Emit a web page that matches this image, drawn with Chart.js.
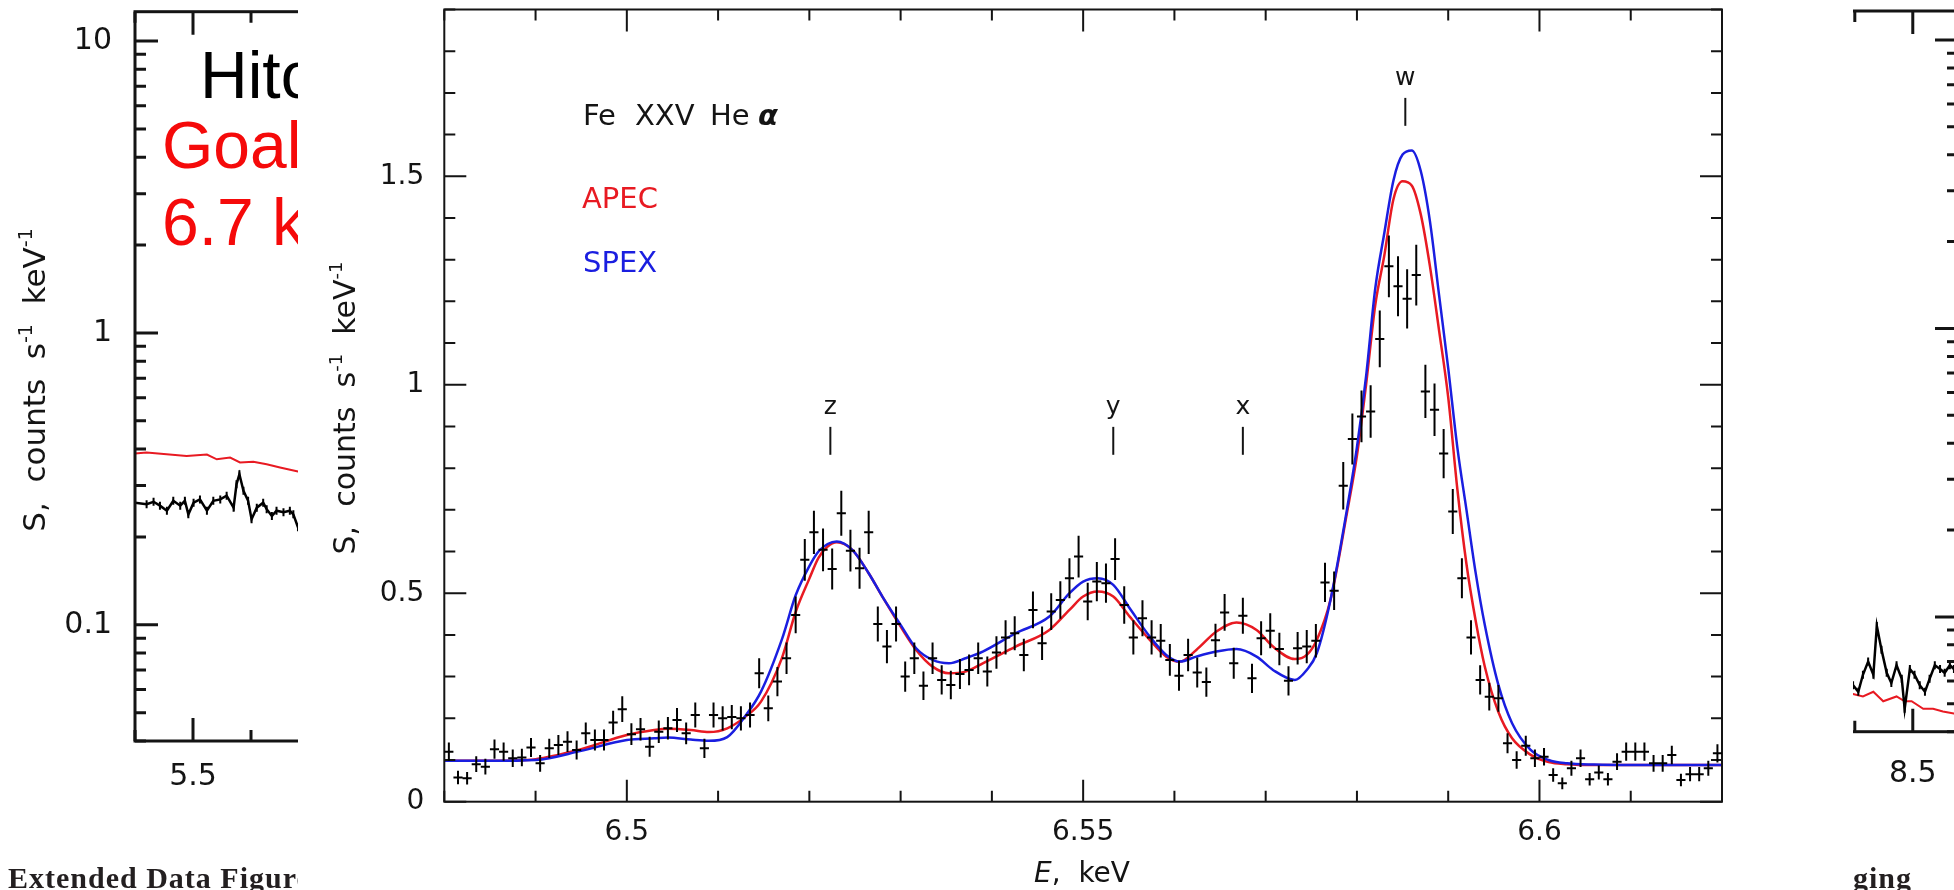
<!DOCTYPE html>
<html>
<head>
<meta charset="utf-8">
<script src="https://cdn.jsdelivr.net/npm/chart.js@4.4.1/dist/chart.umd.min.js"></script>
<style>
  html, body { margin: 0; padding: 0; background: #fff; }
  body { width: 1954px; height: 890px; position: relative; overflow: hidden; }
  canvas { position: absolute; top: 0; }
  #leftChart { left: 0; z-index: 1; }
  #rightChart { left: 1400px; z-index: 1; }
  #mainChart { left: 298px; z-index: 2; background: #fff; }
</style>
</head>
<body>
<canvas id="leftChart" width="760" height="890"></canvas>
<canvas id="rightChart" width="600" height="890"></canvas>
<canvas id="mainChart" width="1555" height="890"></canvas>
<script>
// Fe XXV He-alpha spectrum, 1 eV bins (bin centres, keV)
const energy = [
  6.4805, 6.4815, 6.4825, 6.4835, 6.4845, 6.4855, 6.4865, 6.4875, 6.4885, 6.4895,
  6.4905, 6.4915, 6.4925, 6.4935, 6.4945, 6.4955, 6.4965, 6.4975, 6.4985, 6.4995,
  6.5005, 6.5015, 6.5025, 6.5035, 6.5045, 6.5055, 6.5065, 6.5075, 6.5085, 6.5095,
  6.5105, 6.5115, 6.5125, 6.5135, 6.5145, 6.5155, 6.5165, 6.5175, 6.5185, 6.5195,
  6.5205, 6.5215, 6.5225, 6.5235, 6.5245, 6.5255, 6.5265, 6.5275, 6.5285, 6.5295,
  6.5305, 6.5315, 6.5325, 6.5335, 6.5345, 6.5355, 6.5365, 6.5375, 6.5385, 6.5395,
  6.5405, 6.5415, 6.5425, 6.5435, 6.5445, 6.5455, 6.5465, 6.5475, 6.5485, 6.5495,
  6.5505, 6.5515, 6.5525, 6.5535, 6.5545, 6.5555, 6.5565, 6.5575, 6.5585, 6.5595,
  6.5605, 6.5615, 6.5625, 6.5635, 6.5645, 6.5655, 6.5665, 6.5675, 6.5685, 6.5695,
  6.5705, 6.5715, 6.5725, 6.5735, 6.5745, 6.5755, 6.5765, 6.5775, 6.5785, 6.5795,
  6.5805, 6.5815, 6.5825, 6.5835, 6.5845, 6.5855, 6.5865, 6.5875, 6.5885, 6.5895,
  6.5905, 6.5915, 6.5925, 6.5935, 6.5945, 6.5955, 6.5965, 6.5975, 6.5985, 6.5995,
  6.6005, 6.6015, 6.6025, 6.6035, 6.6045, 6.6055, 6.6065, 6.6075, 6.6085, 6.6095,
  6.6105, 6.6115, 6.6125, 6.6135, 6.6145, 6.6155, 6.6165, 6.6175, 6.6185, 6.6195
];
const counts = [
  0.120, 0.058, 0.056, 0.090, 0.084, 0.126, 0.120, 0.104, 0.106, 0.130,
  0.092, 0.128, 0.136, 0.144, 0.124, 0.164, 0.148, 0.148, 0.190, 0.222,
  0.162, 0.174, 0.132, 0.168, 0.176, 0.196, 0.164, 0.208, 0.128, 0.208,
  0.200, 0.203, 0.200, 0.208, 0.308, 0.224, 0.288, 0.344, 0.448, 0.580,
  0.646, 0.604, 0.558, 0.692, 0.602, 0.560, 0.646, 0.426, 0.372, 0.426,
  0.300, 0.344, 0.278, 0.344, 0.292, 0.280, 0.306, 0.316, 0.344, 0.312,
  0.358, 0.394, 0.404, 0.352, 0.460, 0.380, 0.456, 0.484, 0.536, 0.588,
  0.480, 0.528, 0.524, 0.582, 0.472, 0.394, 0.440, 0.394, 0.386, 0.340,
  0.302, 0.352, 0.310, 0.287, 0.387, 0.454, 0.332, 0.446, 0.296, 0.392,
  0.410, 0.366, 0.290, 0.368, 0.372, 0.386, 0.526, 0.506, 0.758, 0.870,
  0.924, 0.936, 1.110, 1.284, 1.236, 1.206, 1.263, 0.984, 0.940, 0.835,
  0.696, 0.536, 0.394, 0.292, 0.252, 0.248, 0.140, 0.100, 0.134, 0.104,
  0.108, 0.064, 0.044, 0.080, 0.104, 0.054, 0.070, 0.054, 0.096, 0.120,
  0.120, 0.120, 0.092, 0.092, 0.112, 0.052, 0.066, 0.066, 0.080, 0.116
];
const countErr = [
  0.022, 0.016, 0.015, 0.019, 0.019, 0.023, 0.022, 0.021, 0.021, 0.023,
  0.020, 0.023, 0.024, 0.025, 0.023, 0.026, 0.025, 0.025, 0.028, 0.031,
  0.026, 0.027, 0.024, 0.027, 0.027, 0.029, 0.026, 0.030, 0.023, 0.030,
  0.029, 0.029, 0.029, 0.030, 0.036, 0.031, 0.035, 0.038, 0.044, 0.050,
  0.052, 0.051, 0.049, 0.054, 0.050, 0.049, 0.052, 0.042, 0.040, 0.042,
  0.036, 0.038, 0.034, 0.038, 0.035, 0.034, 0.036, 0.037, 0.038, 0.036,
  0.039, 0.041, 0.041, 0.039, 0.044, 0.040, 0.044, 0.045, 0.048, 0.050,
  0.045, 0.047, 0.047, 0.050, 0.045, 0.041, 0.043, 0.041, 0.040, 0.038,
  0.036, 0.039, 0.036, 0.035, 0.040, 0.044, 0.037, 0.043, 0.035, 0.041,
  0.042, 0.039, 0.035, 0.039, 0.040, 0.040, 0.047, 0.046, 0.057, 0.061,
  0.062, 0.063, 0.068, 0.074, 0.072, 0.071, 0.073, 0.064, 0.063, 0.059,
  0.054, 0.048, 0.041, 0.035, 0.033, 0.032, 0.024, 0.021, 0.024, 0.021,
  0.021, 0.016, 0.014, 0.018, 0.021, 0.015, 0.017, 0.015, 0.020, 0.022,
  0.022, 0.022, 0.020, 0.020, 0.022, 0.015, 0.017, 0.017, 0.018, 0.022
];
const binHalf = 0.0005;

// model spectra on a common energy grid
const modelE = [
  6.480, 6.485, 6.490, 6.495, 6.500, 6.503, 6.5045, 6.507, 6.509, 6.511,
  6.513, 6.5147, 6.517, 6.5185, 6.520, 6.521, 6.522, 6.523, 6.5247, 6.5265,
  6.528, 6.530, 6.5317, 6.5335, 6.5353, 6.5371, 6.539, 6.5426, 6.5463, 6.5485,
  6.550, 6.5516, 6.5533, 6.5551, 6.5573, 6.5591, 6.5606, 6.5624, 6.5646, 6.5668,
  6.569, 6.5708, 6.5732, 6.5745, 6.5756, 6.5771, 6.5789, 6.580, 6.581, 6.582,
  6.583, 6.584, 6.585, 6.586, 6.587, 6.588, 6.589, 6.590, 6.591, 6.592,
  6.593, 6.594, 6.5955, 6.597, 6.599, 6.601, 6.603, 6.606, 6.610, 6.620
];
const apec = [
  0.098, 0.098, 0.102, 0.126, 0.160, 0.172, 0.175, 0.172, 0.167, 0.176,
  0.204, 0.240, 0.345, 0.455, 0.535, 0.585, 0.612, 0.622, 0.604, 0.548,
  0.492, 0.420, 0.364, 0.324, 0.308, 0.312, 0.332, 0.372, 0.412, 0.460,
  0.492, 0.504, 0.492, 0.444, 0.388, 0.348, 0.336, 0.364, 0.408, 0.430,
  0.412, 0.372, 0.342, 0.352, 0.388, 0.484, 0.692, 0.830, 1.000, 1.190,
  1.310, 1.445, 1.488, 1.478, 1.408, 1.284, 1.130, 0.970, 0.750, 0.570,
  0.435, 0.325, 0.215, 0.152, 0.113, 0.095, 0.090, 0.088, 0.088, 0.088
];
const spex = [
  0.098, 0.098, 0.100, 0.122, 0.148, 0.152, 0.154, 0.149, 0.146, 0.155,
  0.206, 0.264, 0.390, 0.495, 0.565, 0.600, 0.618, 0.624, 0.604, 0.548,
  0.492, 0.424, 0.368, 0.340, 0.332, 0.344, 0.360, 0.404, 0.444, 0.500,
  0.528, 0.536, 0.520, 0.464, 0.396, 0.352, 0.336, 0.348, 0.360, 0.366,
  0.348, 0.316, 0.292, 0.316, 0.356, 0.484, 0.700, 0.850, 1.020, 1.230,
  1.364, 1.490, 1.552, 1.562, 1.512, 1.392, 1.215, 1.040, 0.850, 0.700,
  0.550, 0.425, 0.280, 0.188, 0.125, 0.100, 0.092, 0.089, 0.088, 0.088
];

// line identifications: name, energy, foot of the marker
const lineNames = ['z', 'y', 'x', 'w'];
const lineE = [6.5223, 6.5533, 6.5675, 6.5853];
const lineMark = [0.832, 0.832, 0.832, 1.621];

// neighbouring broad-band panels (log scale)
const leftE = [
  5.400, 5.420, 5.432, 5.443, 5.455, 5.466, 5.478, 5.486, 5.492, 5.501,
  5.512, 5.524, 5.535, 5.547, 5.558, 5.570, 5.575, 5.580, 5.587, 5.595,
  5.601, 5.610, 5.621, 5.627, 5.636, 5.644, 5.656, 5.667, 5.673, 5.681
];
const leftCounts = [
  0.262, 0.259, 0.264, 0.256, 0.246, 0.266, 0.256, 0.266, 0.239, 0.262,
  0.269, 0.246, 0.266, 0.269, 0.277, 0.252, 0.303, 0.328, 0.288, 0.266,
  0.230, 0.252, 0.262, 0.249, 0.236, 0.246, 0.243, 0.246, 0.239, 0.216
];
const leftModelE = [5.400, 5.420, 5.489, 5.524, 5.541, 5.564, 5.581, 5.604, 5.627, 5.650, 5.681, 5.720];
const leftModel = [0.386, 0.389, 0.379, 0.383, 0.369, 0.374, 0.360, 0.362, 0.355, 0.346, 0.335, 0.328];

const rightE = [
  8.385, 8.397, 8.406, 8.414, 8.423, 8.432, 8.438, 8.446, 8.455, 8.463, 8.472,
  8.481, 8.486, 8.495, 8.503, 8.512, 8.521, 8.529, 8.538, 8.547, 8.555, 8.564, 8.571
];
const rightCounts = [
  0.060, 0.058, 0.055, 0.063, 0.070, 0.063, 0.093, 0.077, 0.064, 0.059, 0.068,
  0.061, 0.048, 0.066, 0.063, 0.058, 0.055, 0.061, 0.068, 0.066, 0.064, 0.068, 0.066
];
const rightModelE = [8.385, 8.397, 8.414, 8.432, 8.449, 8.472, 8.486, 8.498, 8.518, 8.535, 8.552, 8.578];
const rightModel = [0.054, 0.054, 0.053, 0.055, 0.051, 0.053, 0.051, 0.051, 0.048, 0.048, 0.047, 0.046];

const logTicks = [0.04, 0.05, 0.06, 0.07, 0.08, 0.09, 0.1, 0.2, 0.3, 0.4, 0.5, 0.6, 0.7, 0.8, 0.9,
                  1, 2, 3, 4, 5, 6, 7, 8, 9, 10];

const INK = '#141414';
const RED = 'rgb(232, 26, 34)';
const BLUE = 'rgb(26, 30, 224)';
const SANS = '"DejaVu Sans", sans-serif';
const SERIF = '"Liberation Serif", serif';

Chart.defaults.font.family = SANS;
Chart.defaults.color = INK;

function isMult(v, step) { const r = v / step; return Math.abs(r - Math.round(r)) < 1e-6; }
function isDecade(v) { const l = Math.log10(v); return Math.abs(l - Math.round(l)) < 1e-6; }
function fmt(v) { return String(Math.round(v * 1000) / 1000); }
function xy(xs, ys) { return xs.map((x, i) => ({x, y: ys[i]})); }

// fixed box sizes so the plotting areas land where the panels sit
function fixBox(s, dim, size) {
  if (dim === 'w') s.width = size; else s.height = size;
  s.paddingLeft = s.paddingRight = s.paddingTop = s.paddingBottom = 0;
}

// closed frame with inward ticks on all four sides
function frameTicks(cfg) {
  return {
    id: 'frameTicks',
    afterDatasetsDraw(chart) {
      const {ctx, chartArea: a, scales: {x, y}} = chart;
      ctx.save();
      ctx.strokeStyle = INK;
      ctx.lineWidth = cfg.width;
      ctx.beginPath();
      x.ticks.forEach(t => {
        const px = x.getPixelForValue(t.value);
        const len = isMult(t.value, cfg.xMajor) ? cfg.major : cfg.minor;
        ctx.moveTo(px, a.bottom); ctx.lineTo(px, a.bottom - len);
        ctx.moveTo(px, a.top); ctx.lineTo(px, a.top + len);
      });
      y.ticks.forEach(t => {
        const py = y.getPixelForValue(t.value);
        const major = cfg.yLog ? isDecade(t.value) : isMult(t.value, cfg.yMajor);
        const len = major ? cfg.major : cfg.minor;
        ctx.moveTo(a.left, py); ctx.lineTo(a.left + len, py);
        ctx.moveTo(a.right, py); ctx.lineTo(a.right - len, py);
      });
      ctx.stroke();
      ctx.strokeRect(a.left, a.top, a.right - a.left, a.bottom - a.top);
      ctx.restore();
    }
  };
}

// text made of runs with their own fonts (italics, superscripts)
function drawRuns(ctx, runs, x, y, align) {
  let w = 0;
  runs.forEach(r => { ctx.font = r.font; w += ctx.measureText(r.text).width; });
  let cx = align === 'center' ? x - w / 2 : x;
  runs.forEach(r => {
    ctx.font = r.font;
    ctx.fillText(r.text, cx, y - (r.rise || 0));
    cx += ctx.measureText(r.text).width;
  });
}
function countsTitle(size) {
  const f = `${size}px ${SANS}`;
  const s = `${Math.round(size * 0.6)}px ${SANS}`;
  return [
    {text: 'S,  counts  s', font: f},
    {text: '-1', font: s, rise: size * 0.42},
    {text: '  keV', font: f},
    {text: '-1', font: s, rise: size * 0.42}
  ];
}
function verticalTitle(ctx, runs, cx, cy, base) {
  ctx.save();
  ctx.translate(cx, cy);
  ctx.rotate(-Math.PI / 2);
  drawRuns(ctx, runs, 0, base, 'center');
  ctx.restore();
}

function tickFont(size) { return {family: SANS, size}; }

// ---------- main panel ----------
const errorBars = {
  id: 'errorBars',
  afterDatasetsDraw(chart) {
    const {ctx, scales: {x, y}} = chart;
    const pts = chart.getDatasetMeta(0).data;
    ctx.save();
    ctx.strokeStyle = '#000';
    ctx.lineWidth = 2;
    ctx.beginPath();
    pts.forEach((p, i) => {
      ctx.moveTo(x.getPixelForValue(energy[i] - binHalf), p.y);
      ctx.lineTo(x.getPixelForValue(energy[i] + binHalf), p.y);
      ctx.moveTo(p.x, y.getPixelForValue(counts[i] - countErr[i]));
      ctx.lineTo(p.x, y.getPixelForValue(counts[i] + countErr[i]));
    });
    ctx.stroke();
    ctx.restore();
  }
};

const mainNotes = {
  id: 'mainNotes',
  afterDraw(chart) {
    const {ctx, scales: {x, y}} = chart;
    ctx.save();
    ctx.fillStyle = INK;
    ctx.strokeStyle = INK;
    ctx.lineWidth = 2;
    ctx.textBaseline = 'alphabetic';

    // line markers
    ctx.font = `25px ${SANS}`;
    ctx.textAlign = 'center';
    lineNames.forEach((n, i) => {
      const px = x.getPixelForValue(lineE[i]);
      const y0 = y.getPixelForValue(lineMark[i]);
      const y1 = y.getPixelForValue(lineMark[i] + 0.067);
      ctx.beginPath();
      ctx.moveTo(px, y0);
      ctx.lineTo(px, y1);
      ctx.stroke();
      ctx.fillText(n, px, y1 - 13);
    });

    // ion label and model names
    ctx.textAlign = 'left';
    ctx.font = `29px ${SANS}`;
    ctx.fillText('Fe', 285, 125);
    ctx.fillText('XXV', 337, 125);
    ctx.fillText('He', 412, 125);
    ctx.font = `italic bold 29px ${SANS}`;
    ctx.fillText('α', 460, 125);
    ctx.font = `29px ${SANS}`;
    ctx.fillStyle = RED;
    ctx.fillText('APEC', 284, 208);
    ctx.fillStyle = BLUE;
    ctx.fillText('SPEX', 285, 272);

    // axis titles
    ctx.fillStyle = INK;
    verticalTitle(ctx, countsTitle(30), 45, 408, 12);
    drawRuns(ctx, [
      {text: 'E', font: `italic 28px ${SANS}`},
      {text: ',  keV', font: `28px ${SANS}`}
    ], 784, 882, 'center');
    ctx.restore();
  }
};

new Chart(document.getElementById('mainChart'), {
  type: 'scatter',
  data: {
    datasets: [
      {label: 'data', data: xy(energy, counts), pointRadius: 0, showLine: false, order: 0},
      {label: 'SPEX', data: xy(modelE, spex), showLine: true, borderColor: BLUE, borderWidth: 2.5,
       pointRadius: 0, cubicInterpolationMode: 'monotone', order: 1},
      {label: 'APEC', data: xy(modelE, apec), showLine: true, borderColor: RED, borderWidth: 2.5,
       pointRadius: 0, cubicInterpolationMode: 'monotone', order: 2}
    ]
  },
  options: {
    responsive: false,
    animation: false,
    events: [],
    layout: {padding: {left: 0, right: 131, top: 9.5, bottom: 0}},
    plugins: {legend: {display: false}, tooltip: {enabled: false}},
    scales: {
      x: {
        type: 'linear', min: 6.48, max: 6.62,
        grid: {display: false, drawTicks: false}, border: {display: false},
        ticks: {stepSize: 0.01, autoSkip: false, maxRotation: 0, includeBounds: false, padding: 14,
                color: INK, font: tickFont(28), callback: v => isMult(v, 0.05) ? fmt(v) : ''},
        afterFit: s => fixBox(s, 'h', 88.3)
      },
      y: {
        type: 'linear', min: 0, max: 1.9,
        grid: {display: false, drawTicks: false}, border: {display: false},
        ticks: {stepSize: 0.1, autoSkip: false, includeBounds: false, padding: 20,
                color: INK, font: tickFont(28), callback: v => isMult(v, 0.5) ? fmt(v) : ''},
        afterFit: s => fixBox(s, 'w', 146.3)
      }
    }
  },
  plugins: [frameTicks({width: 2, major: 22, minor: 11, xMajor: 0.05, yMajor: 0.5}), errorBars, mainNotes]
});

// ---------- left panel ----------
const leftNotes = {
  id: 'leftNotes',
  afterDraw(chart) {
    const {ctx} = chart;
    ctx.save();
    ctx.textAlign = 'left';
    ctx.textBaseline = 'alphabetic';
    ctx.fillStyle = INK;
    verticalTitle(ctx, countsTitle(31), 32, 380, 13);
    ctx.font = `66px "Liberation Sans", sans-serif`;
    ctx.fillStyle = '#000';
    ctx.fillText('Hitomi', 200, 98);
    ctx.fillStyle = 'rgb(245, 10, 10)';
    ctx.fillText('Goal', 162, 168);
    ctx.fillText('6.7 keV', 162, 245);
    ctx.fillStyle = '#231f20';
    ctx.font = `bold 30px ${SERIF}`;
    ctx.letterSpacing = '1px';
    ctx.fillText('Extended Data Figure', 8, 888);
    ctx.restore();
  }
};

function logAxis(width, showLabels, padding) {
  return {
    type: 'logarithmic', min: 0.04, max: 12.6,
    grid: {display: false, drawTicks: false}, border: {display: false},
    afterBuildTicks: s => { s.ticks = logTicks.map(v => ({value: v})); },
    ticks: {display: showLabels, autoSkip: false, padding, color: INK, font: tickFont(30),
            callback: v => isDecade(v) ? fmt(v) : ''},
    afterFit: s => fixBox(s, 'w', width)
  };
}

new Chart(document.getElementById('leftChart'), {
  type: 'scatter',
  data: {
    datasets: [
      {data: xy(leftE, leftCounts), showLine: true, borderColor: '#000', borderWidth: 2.5,
       pointStyle: 'line', rotation: 90, pointRadius: 4, pointBorderWidth: 2, pointBorderColor: '#000', order: 0},
      {data: xy(leftModelE, leftModel), showLine: true, borderColor: RED, borderWidth: 2, pointRadius: 0, order: 1}
    ]
  },
  options: {
    responsive: false,
    animation: false,
    events: [],
    layout: {padding: {left: 0, right: 45, top: 11.7, bottom: 0}},
    plugins: {legend: {display: false}, tooltip: {enabled: false}},
    scales: {
      x: {
        type: 'linear', min: 5.4, max: 6.4,
        grid: {display: false, drawTicks: false}, border: {display: false},
        ticks: {stepSize: 0.1, autoSkip: false, maxRotation: 0, includeBounds: false, padding: 18,
                color: INK, font: tickFont(30), callback: v => isMult(v, 0.5) ? fmt(v) : ''},
        afterFit: s => fixBox(s, 'h', 149)
      },
      y: logAxis(135, true, 23)
    }
  },
  plugins: [frameTicks({width: 3, major: 23, minor: 11, xMajor: 0.5, yLog: true}), leftNotes]
});

// ---------- right panel ----------
const rightNotes = {
  id: 'rightNotes',
  afterDraw(chart) {
    const {ctx} = chart;
    ctx.save();
    ctx.textAlign = 'left';
    ctx.textBaseline = 'alphabetic';
    ctx.fillStyle = '#231f20';
    ctx.font = `bold 30px ${SERIF}`;
    ctx.letterSpacing = '1px';
    ctx.fillText('ging', 453, 888);
    ctx.restore();
  }
};

new Chart(document.getElementById('rightChart'), {
  type: 'scatter',
  data: {
    datasets: [
      {data: xy(rightE, rightCounts), showLine: true, borderColor: '#000', borderWidth: 2.5,
       pointStyle: 'line', rotation: 90, pointRadius: 4, pointBorderWidth: 2, pointBorderColor: '#000', order: 0},
      {data: xy(rightModelE, rightModel), showLine: true, borderColor: RED, borderWidth: 2, pointRadius: 0, order: 1}
    ]
  },
  options: {
    responsive: false,
    animation: false,
    events: [],
    layout: {padding: {left: 0, right: 42, top: 11, bottom: 0}},
    plugins: {legend: {display: false}, tooltip: {enabled: false}},
    scales: {
      x: {
        type: 'linear', min: 7.75, max: 8.578,
        grid: {display: false, drawTicks: false}, border: {display: false},
        ticks: {stepSize: 0.1, autoSkip: false, maxRotation: 0, includeBounds: false, padding: 25,
                color: INK, font: tickFont(30), callback: v => isMult(v, 0.5) ? fmt(v) : ''},
        afterFit: s => fixBox(s, 'h', 158.3)
      },
      y: logAxis(78, false, 10)
    }
  },
  plugins: [frameTicks({width: 3, major: 23, minor: 11, xMajor: 0.5, yLog: true}), rightNotes]
});
</script>
</body>
</html>
